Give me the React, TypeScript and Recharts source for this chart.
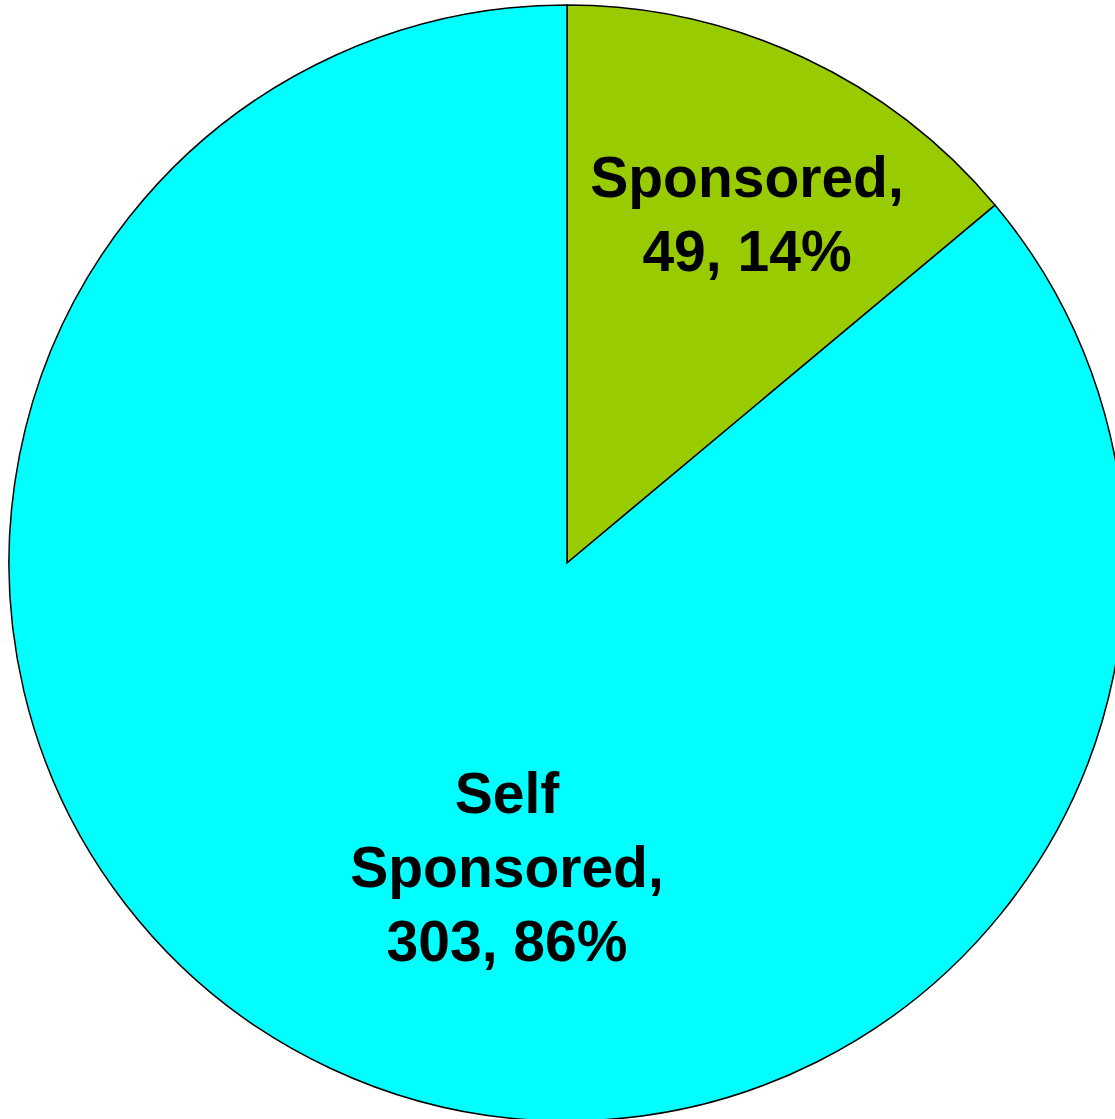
import React from "react";
import { PieChart, Pie, Cell } from "recharts";

const CATEGORIES = ["Sponsored", "Self Sponsored"];
const COUNTS = [49, 303];
const PERCENTS = [14, 86];
const COLORS = ["#99CC00", "#00FFFF"];

// label lines wrap the way the original does
const LABEL_LINES = [
    ["Sponsored,", `${COUNTS[0]}, ${PERCENTS[0]}%`],
    ["Self", "Sponsored,", `${COUNTS[1]}, ${PERCENTS[1]}%`],
];
// where each label block sits, relative to the pie centre (x, first baseline)
const LABEL_OFFSETS = [
    { dx: 180, dy: -366 },
    { dx: -60, dy: 250 },
];

const data = CATEGORIES.map((name, i) => ({ name, value: COUNTS[i] }));

function renderLabel(props: any) {
    const { cx, cy, index } = props;
    const off = LABEL_OFFSETS[index];
    const lines = LABEL_LINES[index];
    const x = cx + off.dx;
    return (
        <text
            x={x}
            y={cy + off.dy}
            textAnchor="middle"
            fill="#000"
            fontFamily="'Liberation Sans', Arial, sans-serif"
            fontWeight="bold"
            fontSize={57}
        >
            {lines.map((line, i) => (
                <tspan key={i} x={x} dy={i === 0 ? 0 : 74}>
                    {line}
                </tspan>
            ))}
        </text>
    );
}

export default function App() {
    return (
        <div
            style={{
                position: "absolute",
                left: 0,
                top: 0,
                width: 1115,
                height: 1119,
                overflow: "hidden",
                background: "#fff",
            }}
        >
            <PieChart width={1140} height={1130} margin={{ top: 0, right: 0, bottom: 0, left: 0 }}>
                <Pie
                    data={data}
                    dataKey="value"
                    nameKey="name"
                    cx={567}
                    cy={563}
                    outerRadius={558}
                    startAngle={90}
                    endAngle={-270}
                    stroke="#000"
                    strokeWidth={1.5}
                    label={renderLabel}
                    labelLine={false}
                    isAnimationActive={false}
                >
                    {data.map((entry, index) => (
                        <Cell key={`cell-${index}`} fill={COLORS[index % COLORS.length]} />
                    ))}
                </Pie>
            </PieChart>
        </div>
    );
}
